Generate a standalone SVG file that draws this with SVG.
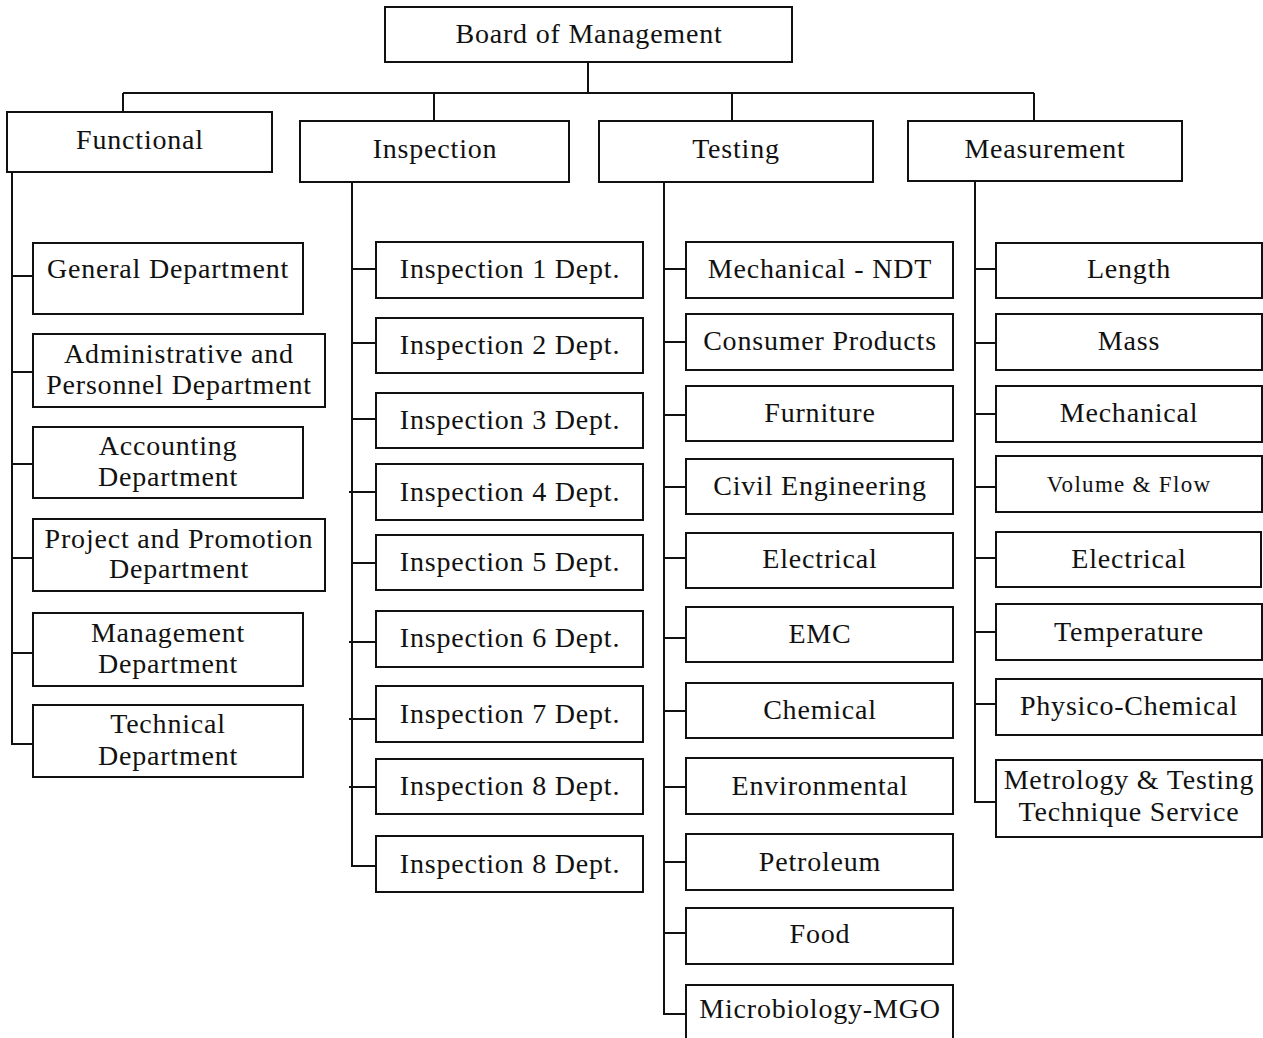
<svg xmlns="http://www.w3.org/2000/svg" width="1263" height="1038" viewBox="0 0 1263 1038">
  <style>
    .box { fill: #fff; stroke: #111; stroke-width: 2; }
    .wire { fill: none; stroke: #111; stroke-width: 2; }
    .lbl { font-family: "Liberation Serif", "Times New Roman", serif; font-size: 28px; letter-spacing: 0.8px; text-anchor: middle; fill: #111; }
    .sm { font-size: 23px; letter-spacing: 1.3px; }
  </style>
  <rect width="1263" height="1038" fill="#fff"/>

  <!-- connectors -->
  <g id="connectors" class="wire">
    <!-- top bus -->
    <path d="M588,62 V93 M123,93 H1034 M123,93 V112 M434,93 V121 M732,93 V121 M1034,93 V121"/>
    <!-- Functional branch -->
    <path d="M12,172 V744 H33 M12,276 H33 M12,372 H33 M12,464 H33 M12,558 H33 M12,653 H33"/>
    <!-- Inspection branch -->
    <path d="M352,182 V866 H376 M352,269 H376 M352,343 H376 M352,419 H376 M349,492 H376 M352,563 H376 M349,642 H376 M349,719 H376 M349,787 H376"/>
    <!-- Testing branch -->
    <path d="M664,182 V1014 H686 M664,269 H686 M664,342 H686 M664,415 H686 M664,487 H686 M664,558 H686 M664,638 H686 M664,711 H686 M664,787 H686 M664,862 H686 M664,933 H686"/>
    <!-- Measurement branch -->
    <path d="M975,181 V802 H996 M975,269 H996 M975,343 H996 M975,414 H996 M975,487 H996 M975,558 H996 M975,632 H996 M975,704 H996"/>
  </g>

  <!-- top level -->
  <g id="board"><rect class="box" x="385" y="7" width="407" height="55"/><text class="lbl" x="589" y="43">Board of Management</text></g>

  <!-- divisions -->
  <g id="functional"><rect class="box" x="7" y="112" width="265" height="60"/><text class="lbl" x="140" y="149">Functional</text></g>
  <g id="inspection"><rect class="box" x="300" y="121" width="269" height="61"/><text class="lbl" x="435" y="158">Inspection</text></g>
  <g id="testing"><rect class="box" x="599" y="121" width="274" height="61"/><text class="lbl" x="736" y="158">Testing</text></g>
  <g id="measurement"><rect class="box" x="908" y="121" width="274" height="60"/><text class="lbl" x="1045" y="158">Measurement</text></g>

  <!-- Functional departments -->
  <g id="general-dept"><rect class="box" x="33" y="243" width="270" height="71"/><text class="lbl" x="168" y="278">General Department</text></g>
  <g id="admin-dept"><rect class="box" x="33" y="334" width="292" height="73"/><text class="lbl" x="179" y="363">Administrative and</text><text class="lbl" x="179" y="394">Personnel Department</text></g>
  <g id="accounting-dept"><rect class="box" x="33" y="427" width="270" height="71"/><text class="lbl" x="168" y="455">Accounting</text><text class="lbl" x="168" y="486">Department</text></g>
  <g id="project-dept"><rect class="box" x="33" y="519" width="292" height="72"/><text class="lbl" x="179" y="548">Project and Promotion</text><text class="lbl" x="179" y="578">Department</text></g>
  <g id="management-dept"><rect class="box" x="33" y="613" width="270" height="73"/><text class="lbl" x="168" y="642">Management</text><text class="lbl" x="168" y="673">Department</text></g>
  <g id="technical-dept"><rect class="box" x="33" y="705" width="270" height="72"/><text class="lbl" x="168" y="733">Technical</text><text class="lbl" x="168" y="765">Department</text></g>

  <!-- Inspection departments -->
  <g id="insp-1"><rect class="box" x="376" y="242" width="267" height="56"/><text class="lbl" x="510" y="278">Inspection 1 Dept.</text></g>
  <g id="insp-2"><rect class="box" x="376" y="318" width="267" height="55"/><text class="lbl" x="510" y="354">Inspection 2 Dept.</text></g>
  <g id="insp-3"><rect class="box" x="376" y="393" width="267" height="55"/><text class="lbl" x="510" y="429">Inspection 3 Dept.</text></g>
  <g id="insp-4"><rect class="box" x="376" y="464" width="267" height="56"/><text class="lbl" x="510" y="501">Inspection 4 Dept.</text></g>
  <g id="insp-5"><rect class="box" x="376" y="535" width="267" height="55"/><text class="lbl" x="510" y="571">Inspection 5 Dept.</text></g>
  <g id="insp-6"><rect class="box" x="376" y="611" width="267" height="56"/><text class="lbl" x="510" y="647">Inspection 6 Dept.</text></g>
  <g id="insp-7"><rect class="box" x="376" y="686" width="267" height="56"/><text class="lbl" x="510" y="723">Inspection 7 Dept.</text></g>
  <g id="insp-8"><rect class="box" x="376" y="759" width="267" height="55"/><text class="lbl" x="510" y="795">Inspection 8 Dept.</text></g>
  <g id="insp-8b"><rect class="box" x="376" y="836" width="267" height="56"/><text class="lbl" x="510" y="873">Inspection 8 Dept.</text></g>

  <!-- Testing laboratories -->
  <g id="test-ndt"><rect class="box" x="686" y="242" width="267" height="56"/><text class="lbl" x="820" y="278">Mechanical - NDT</text></g>
  <g id="test-consumer"><rect class="box" x="686" y="314" width="267" height="56"/><text class="lbl" x="820" y="350">Consumer Products</text></g>
  <g id="test-furniture"><rect class="box" x="686" y="386" width="267" height="55"/><text class="lbl" x="820" y="422">Furniture</text></g>
  <g id="test-civil"><rect class="box" x="686" y="459" width="267" height="55"/><text class="lbl" x="820" y="495">Civil Engineering</text></g>
  <g id="test-electrical"><rect class="box" x="686" y="533" width="267" height="55"/><text class="lbl" x="820" y="568">Electrical</text></g>
  <g id="test-emc"><rect class="box" x="686" y="607" width="267" height="55"/><text class="lbl" x="820" y="643">EMC</text></g>
  <g id="test-chemical"><rect class="box" x="686" y="683" width="267" height="55"/><text class="lbl" x="820" y="719">Chemical</text></g>
  <g id="test-environmental"><rect class="box" x="686" y="758" width="267" height="56"/><text class="lbl" x="820" y="795">Environmental</text></g>
  <g id="test-petroleum"><rect class="box" x="686" y="834" width="267" height="56"/><text class="lbl" x="820" y="871">Petroleum</text></g>
  <g id="test-food"><rect class="box" x="686" y="908" width="267" height="56"/><text class="lbl" x="820" y="943">Food</text></g>
  <g id="test-micro"><rect class="box" x="686" y="985" width="267" height="60"/><text class="lbl" x="820" y="1018">Microbiology-MGO</text></g>

  <!-- Measurement laboratories -->
  <g id="meas-length"><rect class="box" x="996" y="243" width="266" height="55"/><text class="lbl" x="1129" y="278">Length</text></g>
  <g id="meas-mass"><rect class="box" x="996" y="314" width="266" height="56"/><text class="lbl" x="1129" y="350">Mass</text></g>
  <g id="meas-mechanical"><rect class="box" x="996" y="386" width="266" height="56"/><text class="lbl" x="1129" y="422">Mechanical</text></g>
  <g id="meas-volume"><rect class="box" x="996" y="456" width="266" height="56"/><text class="lbl sm" x="1129" y="492">Volume &amp; Flow</text></g>
  <g id="meas-electrical"><rect class="box" x="996" y="532" width="265" height="55"/><text class="lbl" x="1129" y="568">Electrical</text></g>
  <g id="meas-temperature"><rect class="box" x="996" y="604" width="266" height="56"/><text class="lbl" x="1129" y="641">Temperature</text></g>
  <g id="meas-physico"><rect class="box" x="996" y="679" width="266" height="56"/><text class="lbl" x="1129" y="715">Physico-Chemical</text></g>
  <g id="meas-metrology"><rect class="box" x="996" y="760" width="266" height="77"/><text class="lbl" x="1129" y="789">Metrology &amp; Testing</text><text class="lbl" x="1129" y="821">Technique Service</text></g>
</svg>
